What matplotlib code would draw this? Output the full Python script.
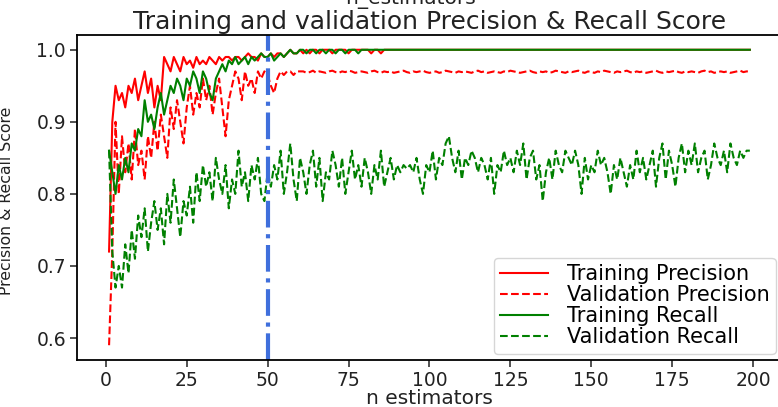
import matplotlib
matplotlib.use("Agg")
import matplotlib.pyplot as plt

# number of estimators, 1..199
n_estimators = list(range(1, 200))

train_precision = [
    0.72, 0.90, 0.95, 0.93, 0.94, 0.92, 0.95, 0.94, 0.96, 0.93,
    0.95, 0.97, 0.94, 0.96, 0.92, 0.95, 0.93, 0.99, 0.98, 0.97,
    0.99, 0.98, 0.97, 0.99, 0.98, 0.985, 0.975, 0.99, 0.98, 0.985,
    0.98, 0.99, 0.985, 0.98, 0.99, 0.985, 0.99, 0.99, 0.985, 0.99,
    0.99, 0.985, 0.99, 0.995, 0.99, 0.99, 0.985, 0.995, 0.99, 0.99,
    0.995, 0.99, 0.995, 0.995, 0.99, 0.995, 1.0, 0.995, 0.995, 1.0,
    0.995, 1.0, 0.995, 1.0, 1.0, 0.995, 1.0, 1.0, 1.0, 0.995,
    1.0, 1.0, 1.0, 1.0, 0.995, 1.0, 1.0, 1.0, 1.0, 1.0,
    1.0, 0.995, 1.0, 1.0, 0.995, 1.0, 1.0, 1.0, 1.0, 1.0,
    1.0, 1.0, 1.0, 1.0, 1.0, 1.0, 1.0, 1.0, 1.0, 1.0,
    1.0, 1.0, 1.0, 1.0, 1.0, 1.0, 1.0, 1.0, 1.0, 1.0,
    1.0, 1.0, 1.0, 1.0, 1.0, 1.0, 1.0, 1.0, 1.0, 1.0,
    1.0, 1.0, 1.0, 1.0, 1.0, 1.0, 1.0, 1.0, 1.0, 1.0,
    1.0, 1.0, 1.0, 1.0, 1.0, 1.0, 1.0, 1.0, 1.0, 1.0,
    1.0, 1.0, 1.0, 1.0, 1.0, 1.0, 1.0, 1.0, 1.0, 1.0,
    1.0, 1.0, 1.0, 1.0, 1.0, 1.0, 1.0, 1.0, 1.0, 1.0,
    1.0, 1.0, 1.0, 1.0, 1.0, 1.0, 1.0, 1.0, 1.0, 1.0,
    1.0, 1.0, 1.0, 1.0, 1.0, 1.0, 1.0, 1.0, 1.0, 1.0,
    1.0, 1.0, 1.0, 1.0, 1.0, 1.0, 1.0, 1.0, 1.0, 1.0,
    1.0, 1.0, 1.0, 1.0, 1.0, 1.0, 1.0, 1.0, 1.0,
]

val_precision = [
    0.59, 0.72, 0.90, 0.80, 0.88, 0.83, 0.87, 0.82, 0.89, 0.84,
    0.86, 0.82, 0.88, 0.85, 0.90, 0.86, 0.91, 0.88, 0.85, 0.92,
    0.89, 0.93, 0.90, 0.87, 0.92, 0.95, 0.91, 0.94, 0.92, 0.96,
    0.93, 0.95, 0.91, 0.94, 0.96, 0.92, 0.88, 0.93, 0.95, 0.97,
    0.96, 0.93, 0.97, 0.95, 0.96, 0.94, 0.97, 0.96, 0.97, 0.965,
    0.95, 0.94, 0.96, 0.97, 0.965, 0.97, 0.97, 0.965, 0.97, 0.97,
    0.970, 0.968, 0.969, 0.971, 0.968, 0.970, 0.969, 0.968, 0.970, 0.971,
    0.969, 0.968, 0.970, 0.969, 0.971, 0.970, 0.968, 0.969, 0.970, 0.969,
    0.968, 0.970, 0.971, 0.969, 0.968, 0.970, 0.969, 0.970, 0.968, 0.969,
    0.970, 0.971, 0.969, 0.968, 0.970, 0.969, 0.970, 0.971, 0.969, 0.968,
    0.969, 0.970, 0.968, 0.969, 0.971, 0.970, 0.969, 0.968, 0.970, 0.969,
    0.970, 0.969, 0.968, 0.970, 0.971, 0.969, 0.970, 0.968, 0.969, 0.970,
    0.969, 0.968, 0.970, 0.969, 0.971, 0.970, 0.969, 0.968, 0.969, 0.970,
    0.971, 0.969, 0.968, 0.970, 0.969, 0.970, 0.968, 0.969, 0.971, 0.970,
    0.969, 0.968, 0.970, 0.969, 0.970, 0.971, 0.969, 0.968, 0.970, 0.969,
    0.968, 0.970, 0.969, 0.971, 0.970, 0.969, 0.968, 0.970, 0.969, 0.970,
    0.971, 0.969, 0.968, 0.970, 0.969, 0.970, 0.968, 0.969, 0.970, 0.971,
    0.969, 0.968, 0.970, 0.969, 0.970, 0.971, 0.969, 0.968, 0.970, 0.969,
    0.970, 0.969, 0.968, 0.970, 0.971, 0.969, 0.970, 0.968, 0.969, 0.970,
    0.969, 0.970, 0.968, 0.969, 0.970, 0.971, 0.969, 0.970, 0.970,
]

train_recall = [
    0.86, 0.83, 0.80, 0.84, 0.82, 0.85, 0.83, 0.87, 0.86, 0.89,
    0.88, 0.93, 0.90, 0.91, 0.89, 0.92, 0.94, 0.91, 0.93, 0.95,
    0.94, 0.96, 0.95, 0.93, 0.96, 0.95, 0.97, 0.96, 0.94, 0.97,
    0.96, 0.94, 0.93, 0.96, 0.97, 0.98, 0.97, 0.985, 0.98, 0.99,
    0.98, 0.985, 0.99, 0.98, 0.99, 0.985, 0.99, 0.995, 0.99, 0.99,
    0.995, 0.985, 0.99, 0.995, 0.99, 0.995, 1.0, 0.995, 0.995, 1.0,
    1.0, 0.995, 1.0, 1.0, 0.995, 1.0, 1.0, 0.995, 1.0, 1.0,
    0.995, 1.0, 1.0, 0.995, 1.0, 1.0, 1.0, 0.995, 1.0, 1.0,
    1.0, 1.0, 1.0, 1.0, 1.0, 1.0, 1.0, 1.0, 1.0, 1.0,
    1.0, 1.0, 1.0, 1.0, 1.0, 1.0, 1.0, 1.0, 1.0, 1.0,
    1.0, 1.0, 1.0, 1.0, 1.0, 1.0, 1.0, 1.0, 1.0, 1.0,
    1.0, 1.0, 1.0, 1.0, 1.0, 1.0, 1.0, 1.0, 1.0, 1.0,
    1.0, 1.0, 1.0, 1.0, 1.0, 1.0, 1.0, 1.0, 1.0, 1.0,
    1.0, 1.0, 1.0, 1.0, 1.0, 1.0, 1.0, 1.0, 1.0, 1.0,
    1.0, 1.0, 1.0, 1.0, 1.0, 1.0, 1.0, 1.0, 1.0, 1.0,
    1.0, 1.0, 1.0, 1.0, 1.0, 1.0, 1.0, 1.0, 1.0, 1.0,
    1.0, 1.0, 1.0, 1.0, 1.0, 1.0, 1.0, 1.0, 1.0, 1.0,
    1.0, 1.0, 1.0, 1.0, 1.0, 1.0, 1.0, 1.0, 1.0, 1.0,
    1.0, 1.0, 1.0, 1.0, 1.0, 1.0, 1.0, 1.0, 1.0, 1.0,
    1.0, 1.0, 1.0, 1.0, 1.0, 1.0, 1.0, 1.0, 1.0,
]

val_recall = [
    0.86, 0.72, 0.67, 0.70, 0.67, 0.73, 0.69, 0.75, 0.71, 0.77,
    0.74, 0.78, 0.72, 0.76, 0.79, 0.75, 0.78, 0.73, 0.80, 0.76,
    0.82, 0.78, 0.74, 0.79, 0.77, 0.81, 0.76, 0.83, 0.79, 0.84,
    0.81, 0.83, 0.79, 0.85, 0.82, 0.80, 0.84, 0.78, 0.82, 0.80,
    0.86, 0.81, 0.83, 0.79, 0.84, 0.82, 0.85, 0.80, 0.79, 0.83,
    0.81, 0.84, 0.82, 0.86, 0.80, 0.83, 0.87, 0.82, 0.79, 0.85,
    0.83, 0.80, 0.84, 0.86, 0.81, 0.85, 0.79, 0.83, 0.82, 0.86,
    0.84, 0.81, 0.85, 0.80, 0.83, 0.86, 0.82, 0.84, 0.81, 0.85,
    0.83, 0.80, 0.84, 0.82, 0.86, 0.81, 0.83, 0.85, 0.82, 0.84,
    0.83, 0.84, 0.835, 0.84, 0.83, 0.85, 0.82, 0.80, 0.84, 0.83,
    0.86, 0.82, 0.85, 0.84, 0.87, 0.88, 0.85, 0.83, 0.86, 0.82,
    0.85, 0.84, 0.86, 0.85, 0.83, 0.85, 0.84, 0.82, 0.85, 0.80,
    0.84, 0.83, 0.86, 0.84, 0.85, 0.83, 0.86, 0.84, 0.87, 0.82,
    0.85, 0.86, 0.82, 0.84, 0.79, 0.83, 0.85, 0.82, 0.86, 0.84,
    0.83, 0.86, 0.85, 0.84, 0.86, 0.84, 0.80, 0.85, 0.82, 0.84,
    0.83, 0.86, 0.84, 0.85, 0.83, 0.80, 0.84, 0.82, 0.85, 0.83,
    0.81, 0.84, 0.82, 0.86, 0.83, 0.85, 0.82, 0.84, 0.86, 0.81,
    0.85, 0.87, 0.82, 0.86, 0.84, 0.81, 0.85, 0.87, 0.83, 0.86,
    0.84, 0.87, 0.83, 0.85, 0.86, 0.82, 0.84, 0.87, 0.85, 0.84,
    0.86, 0.83, 0.87, 0.85, 0.84, 0.86, 0.85, 0.86, 0.86,
]

best_n = 50

fig = plt.figure(figsize=(7.78, 4.07), dpi=100)
ax = fig.add_axes([0.099, 0.1155, 0.906, 0.7985])

ax.plot(n_estimators, train_precision, color="red", lw=1.5, label="Training Precision")
ax.plot(n_estimators, val_precision, color="red", lw=1.5, ls="--", label="Validation Precision")
ax.plot(n_estimators, train_recall, color="green", lw=1.5, label="Training Recall")
ax.plot(n_estimators, val_recall, color="green", lw=1.5, ls="--", label="Validation Recall")
ax.axvline(best_n, color="#3f6fdc", lw=3, ls="-.")

ax.set_title("Training and validation Precision & Recall Score", fontsize=18,
             color="#222222", pad=4)
ax.set_xlabel("n estimators", fontsize=14.5, color="#222222", labelpad=-1)
ax.set_ylabel("Precision & Recall Score", fontsize=11.3, color="#222222")
ax.yaxis.set_label_coords(-0.09, 0.49)
ax.set_xticks([0, 25, 50, 75, 100, 125, 150, 175, 200])
ax.set_yticks([0.6, 0.7, 0.8, 0.9, 1.0])
ax.tick_params(labelsize=13.5, length=5, width=1.1, pad=3, colors="#222222")
for s in ax.spines.values():
    s.set_linewidth(1.3)

ax.legend(loc="lower right", fontsize=15, borderaxespad=0.3, labelspacing=0.05,
          handlelength=2.3, handletextpad=0.9, borderpad=0.3)

# xlabel of the panel above, cut by the crop
fig.text(0.527, 0.99, "n_estimators", fontsize=14.5, ha="center", va="baseline", color="#222222")

fig.savefig("out.png", dpi=100)
